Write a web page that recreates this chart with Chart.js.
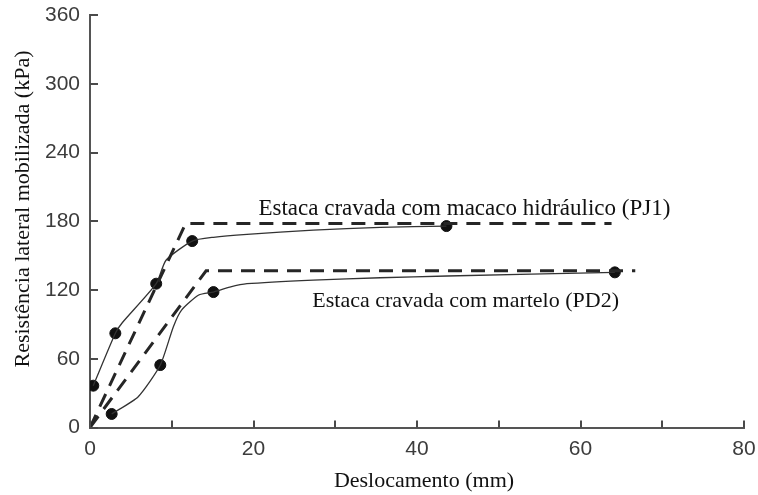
<!DOCTYPE html>
<html>
<head>
<meta charset="utf-8">
<title>Resistência lateral x deslocamento</title>
<script src="https://cdn.jsdelivr.net/npm/chart.js@4/dist/chart.umd.min.js"></script>
<style>
  html, body { margin: 0; padding: 0; background: #fff; }
  #wrap { width: 758px; height: 495px; }
</style>
</head>
<body>
<div id="wrap"><canvas id="grafico" width="758" height="495"></canvas></div>
<script>
// pontos medidos (deslocamento em mm, resistência em kPa)
var pj1X = [0.4, 3.1, 8.1, 12.5, 43.6];
var pj1Y = [36.5, 82.2, 125.5, 162.7, 175.8];
var pd2X = [2.65, 8.6, 15.1, 64.2];
var pd2Y = [11.8, 54.5, 118.2, 135.4];

// traçado da curva ligando os pontos
var pj1CurvaX = [0.4, 3.1, 3.9, 8.1, 9.3, 12.5, 15.1, 19.2, 27.3, 35.5, 43.6];
var pj1CurvaY = [36.5, 82.2, 91, 125.5, 146, 162.7, 166, 168.6, 172.3, 174.6, 175.8];
var pd2CurvaX = [2.65, 5.9, 8.6, 10.2, 11.2, 13.3, 15.1, 17.1, 19.2, 27.3, 35.5, 43.7, 64.2];
var pd2CurvaY = [11.8, 26.9, 54.5, 88, 102.5, 115.6, 118.2, 122.5, 125.5, 128.7, 130.7, 132.2, 135.4];

// ajuste bilinear (tracejado)
var pj1BiX = [0, 11.7, 63.8];
var pj1BiY = [0, 178, 178];
var pd2BiX = [0, 14.2, 66.7];
var pd2BiY = [0, 136.8, 136.8];

var xTicks = [0, 10, 20, 30, 40, 50, 60, 70, 80];
var xLabels = [0, 20, 40, 60, 80];
var yTicks = [0, 60, 120, 180, 240, 300, 360];

var rotulos = [
    { texto: "Estaca cravada com macaco hidráulico (PJ1)", x: 20.6, y: 185.4, tam: 23 },
    { texto: "Estaca cravada com martelo (PD2)", x: 27.2, y: 105.4, tam: 22 }
];

function pares(xs, ys) {
    return xs.map(function (v, i) { return { x: v, y: ys[i] }; });
}

var serif = "'Liberation Serif', 'Times New Roman', serif";
var sans = "'Liberation Sans', Arial, sans-serif";

// ticks para dentro, títulos dos eixos e rótulos das curvas
var extras = {
    id: 'extras',
    afterDraw: function (chart) {
        var ctx = chart.ctx;
        var sx = chart.scales.x, sy = chart.scales.y;
        var a = chart.chartArea;
        ctx.save();
        ctx.strokeStyle = '#4a4a4a';
        ctx.lineWidth = 2;
        ctx.beginPath();
        xTicks.forEach(function (t) {
            var px = Math.round(sx.getPixelForValue(t));
            ctx.moveTo(px, a.bottom);
            ctx.lineTo(px, a.bottom - 7);
        });
        yTicks.forEach(function (t) {
            var py = Math.round(sy.getPixelForValue(t));
            ctx.moveTo(a.left, py);
            ctx.lineTo(a.left + 8, py);
        });
        ctx.stroke();

        ctx.fillStyle = '#111';
        ctx.textBaseline = 'alphabetic';
        ctx.textAlign = 'left';
        rotulos.forEach(function (r) {
            ctx.font = r.tam + 'px ' + serif;
            ctx.fillText(r.texto, sx.getPixelForValue(r.x), sy.getPixelForValue(r.y));
        });

        ctx.font = '22px ' + serif;
        ctx.textAlign = 'center';
        ctx.textBaseline = 'middle';
        ctx.fillText('Deslocamento (mm)', 424, 481);

        ctx.translate(23, 209);
        ctx.rotate(-Math.PI / 2);
        ctx.fillText('Resistência lateral mobilizada (kPa)', 0, 0);
        ctx.restore();
    }
};

var ctx = document.getElementById('grafico').getContext('2d');
var grafico = new Chart(ctx, {
    type: 'scatter',
    data: {
        datasets: [
            {
                label: 'PJ1 bilinear',
                data: pares(pj1BiX, pj1BiY),
                showLine: true,
                borderColor: '#262626',
                borderWidth: 3,
                borderDash: [14, 9],
                pointRadius: 0
            },
            {
                label: 'PD2 bilinear',
                data: pares(pd2BiX, pd2BiY),
                showLine: true,
                borderColor: '#262626',
                borderWidth: 3,
                borderDash: [14, 9],
                pointRadius: 0
            },
            {
                label: 'PJ1 curva',
                data: pares(pj1CurvaX, pj1CurvaY),
                showLine: true,
                borderColor: '#333',
                borderWidth: 1.3,
                tension: 0.2,
                pointRadius: 0
            },
            {
                label: 'PD2 curva',
                data: pares(pd2CurvaX, pd2CurvaY),
                showLine: true,
                borderColor: '#333',
                borderWidth: 1.3,
                tension: 0.2,
                pointRadius: 0
            },
            {
                label: 'PJ1',
                data: pares(pj1X, pj1Y),
                pointRadius: 5.5,
                pointBackgroundColor: '#111',
                pointBorderColor: '#111'
            },
            {
                label: 'PD2',
                data: pares(pd2X, pd2Y),
                pointRadius: 5.5,
                pointBackgroundColor: '#111',
                pointBorderColor: '#111'
            }
        ]
    },
    plugins: [extras],
    options: {
        responsive: false,
        animation: false,
        layout: { padding: { top: 15, right: 14, left: 0, bottom: 0 } },
        plugins: {
            legend: { display: false },
            tooltip: { enabled: false }
        },
        scales: {
            x: {
                type: 'linear',
                min: 0,
                max: 80,
                afterFit: function (s) {
                    s.height = 67.5;
                    s.paddingLeft = 0;
                    s.paddingRight = 0;
                },
                afterBuildTicks: function (s) { s.ticks = xLabels.map(function (v) { return { value: v }; }); },
                grid: { drawOnChartArea: false, drawTicks: false },
                border: { color: '#555', width: 2 },
                ticks: {
                    padding: 9,
                    color: '#3c3c3c',
                    font: { family: sans, size: 21 }
                }
            },
            y: {
                type: 'linear',
                min: 0,
                max: 360,
                afterFit: function (s) {
                    s.width = 90;
                    s.paddingTop = 0;
                    s.paddingBottom = 0;
                },
                afterBuildTicks: function (s) { s.ticks = yTicks.map(function (v) { return { value: v }; }); },
                grid: { drawOnChartArea: false, drawTicks: false },
                border: { color: '#555', width: 2 },
                ticks: {
                    padding: 10,
                    color: '#3c3c3c',
                    font: { family: sans, size: 21 }
                }
            }
        }
    }
});
</script>
</body>
</html>
